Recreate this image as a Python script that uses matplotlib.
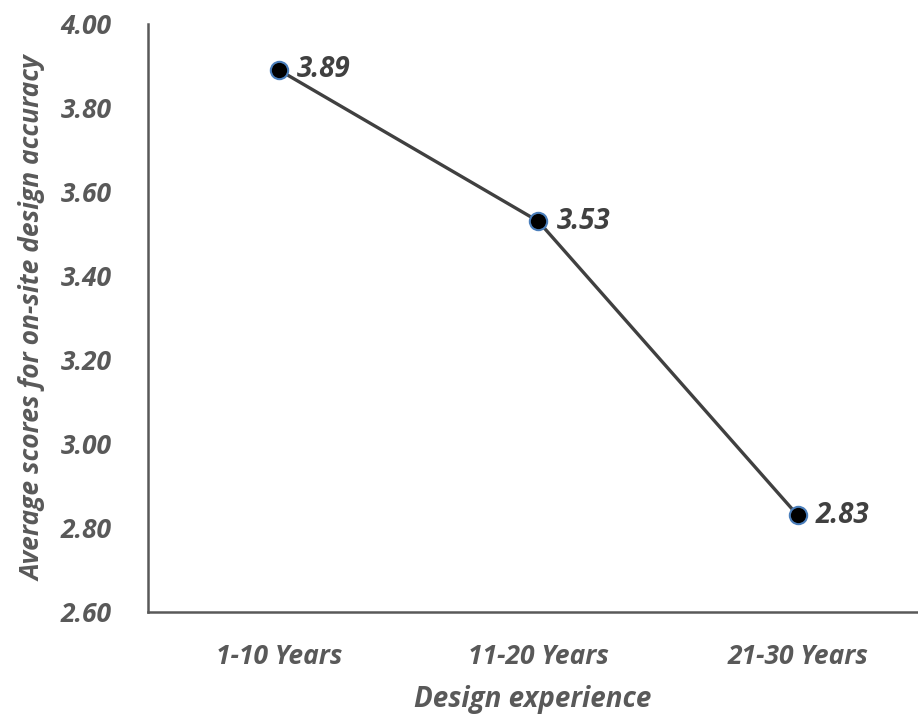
import matplotlib.pyplot as plt

categories = ["1-10 Years", "11-20 Years", "21-30 Years"]
scores = [3.89, 3.53, 2.83]
y_ticks = [2.60, 2.80, 3.00, 3.20, 3.40, 3.60, 3.80, 4.00]

text_color = "#595959"
plt.rcParams['font.family'] = ['Open Sans', 'DejaVu Sans']

fig = plt.figure(figsize=(9.18, 7.2), dpi=100)
ax = fig.add_axes([0.161, 0.15, 0.838, 0.817])

x = list(range(len(categories)))
ax.plot(x, scores, color="#404040", linewidth=2.4, zorder=2)
ax.plot(x, scores, linestyle="none", marker="o", markersize=12.5,
        markerfacecolor="black", markeredgecolor="#4a7ebb",
        markeredgewidth=1.5, zorder=3)

# value labels next to each point
for xi, v in zip(x, scores):
    ax.annotate(f"{v:.2f}", (xi, v), xytext=(13, 0), textcoords="offset points",
                ha="left", va="center", fontsize=20, fontweight="bold",
                fontstyle="italic", color="#404040")

ax.set_xlim(-0.505, 2.46)
ax.set_ylim(2.60, 4.00)
ax.set_yticks(y_ticks)
ax.set_yticklabels([f"{t:.2f}" for t in y_ticks])
ax.set_xticks(x)
ax.set_xticklabels(categories)

for lab in ax.get_xticklabels() + ax.get_yticklabels():
    lab.set_fontsize(19)
    lab.set_fontweight("bold")
    lab.set_fontstyle("italic")
    lab.set_color(text_color)

ax.tick_params(axis="both", length=0)
ax.tick_params(axis="y", pad=26)
ax.tick_params(axis="x", pad=22)

for side in ["top", "right"]:
    ax.spines[side].set_visible(False)
for side in ["left", "bottom"]:
    ax.spines[side].set_color("#595959")
    ax.spines[side].set_linewidth(1.8)

ax.set_xlabel("Design experience", fontsize=20, fontweight="bold",
              fontstyle="italic", color=text_color, labelpad=11)
ax.set_ylabel("Average scores for on-site design accuracy", fontsize=19,
              fontweight="bold", fontstyle="italic", color=text_color,
              labelpad=10)

plt.savefig("out.png", dpi=100)
